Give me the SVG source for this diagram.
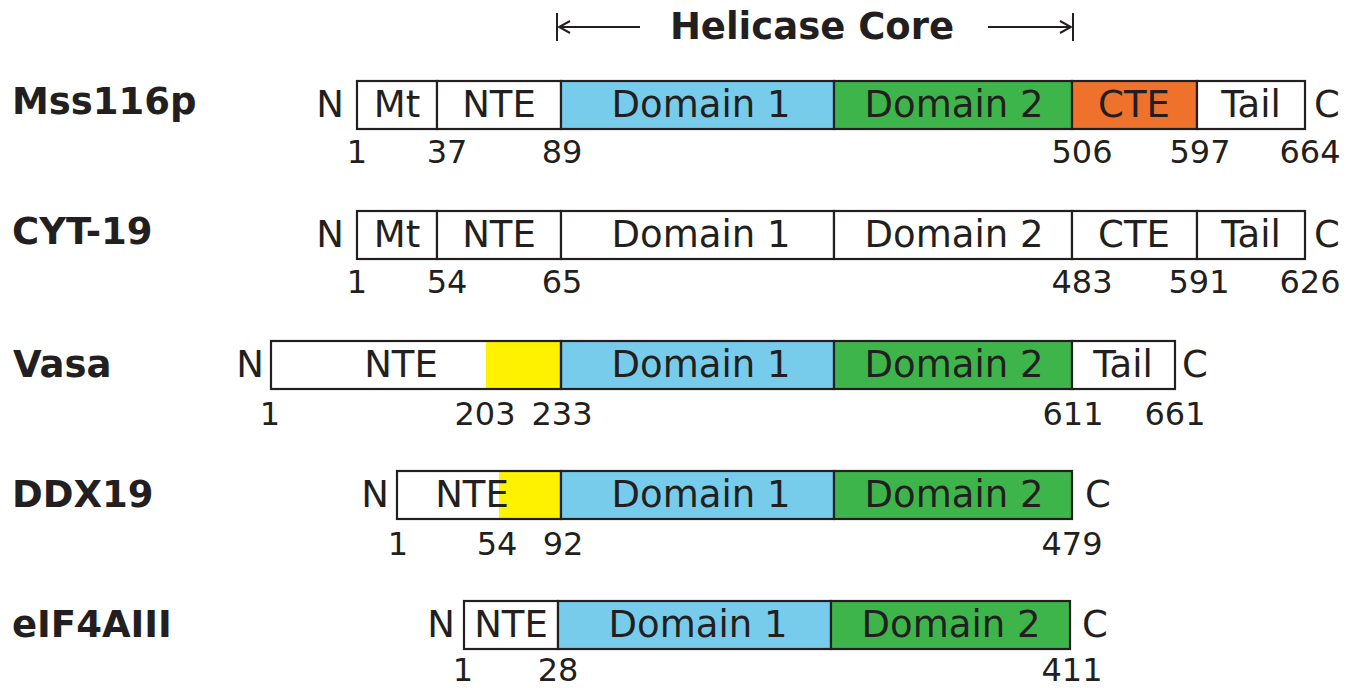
<svg xmlns="http://www.w3.org/2000/svg" width="1358" height="688" viewBox="0 0 1358 688">
  <defs>
    <style>
      text { font-family: "DejaVu Sans", Verdana, sans-serif; fill: #231F20; }
      .name { font-size: 37px; font-weight: bold; }
      .title { font-size: 37px; font-weight: bold; text-anchor: middle; }
      .lab { font-size: 37px; text-anchor: middle; }
      .num { font-size: 32px; text-anchor: middle; }
      .seg { stroke: #231F20; stroke-width: 2.2; }
      .w { fill: #FFFFFF; }
      .b { fill: #78CCEB; }
      .g { fill: #3EB54B; }
      .o { fill: #EE722B; }
      .y { fill: #FFF200; }
      .frame { fill: none; stroke: #231F20; stroke-width: 2.2; }
      .ln { stroke: #231F20; stroke-width: 2; fill: none; }
    </style>
    <marker id="arr" markerWidth="14" markerHeight="14" refX="1" refY="7" orient="auto" markerUnits="userSpaceOnUse">
      <path d="M12,1 L1,7 L12,13" fill="none" stroke="#231F20" stroke-width="2"/>
    </marker>
  </defs>

  <!-- Helicase core span indicator -->
  <g id="helicase-core">
    <line class="ln" x1="557" y1="13" x2="557" y2="41"/>
    <line class="ln" x1="559" y1="27" x2="640" y2="27" marker-start="url(#arr)"/>
    <line class="ln" x1="1073" y1="13" x2="1073" y2="41"/>
    <line class="ln" x1="1071" y1="27" x2="988" y2="27" marker-start="url(#arr)"/>
    <text class="title" x="812" y="39">Helicase Core</text>
  </g>

  <!-- Mss116p -->
  <g id="mss116p">
    <text class="name" x="12" y="114">Mss116p</text>
    <text class="lab" x="330" y="117">N</text>
    <rect class="seg w" x="357" y="81" width="80" height="48"/>
    <rect class="seg w" x="437" y="81" width="124" height="48"/>
    <rect class="seg b" x="561" y="81" width="273" height="48"/>
    <rect class="seg g" x="834" y="81" width="238" height="48"/>
    <rect class="seg o" x="1072" y="81" width="125" height="48"/>
    <rect class="seg w" x="1197" y="81" width="108" height="48"/>
    <text class="lab" x="397" y="117">Mt</text>
    <text class="lab" x="499" y="117">NTE</text>
    <text class="lab" x="701" y="117">Domain 1</text>
    <text class="lab" x="954" y="117">Domain 2</text>
    <text class="lab" x="1134" y="117">CTE</text>
    <text class="lab" x="1251" y="117">Tail</text>
    <text class="lab" x="1327" y="117">C</text>
    <text class="num" x="357" y="163">1</text>
    <text class="num" x="447" y="163">37</text>
    <text class="num" x="562" y="163">89</text>
    <text class="num" x="1082" y="163">506</text>
    <text class="num" x="1200" y="163">597</text>
    <text class="num" x="1310" y="163">664</text>
  </g>

  <!-- CYT-19 -->
  <g id="cyt19">
    <text class="name" x="12" y="244">CYT-19</text>
    <text class="lab" x="330" y="247">N</text>
    <rect class="seg w" x="357" y="211" width="80" height="48"/>
    <rect class="seg w" x="437" y="211" width="124" height="48"/>
    <rect class="seg w" x="561" y="211" width="273" height="48"/>
    <rect class="seg w" x="834" y="211" width="238" height="48"/>
    <rect class="seg w" x="1072" y="211" width="125" height="48"/>
    <rect class="seg w" x="1197" y="211" width="108" height="48"/>
    <text class="lab" x="397" y="247">Mt</text>
    <text class="lab" x="499" y="247">NTE</text>
    <text class="lab" x="701" y="247">Domain 1</text>
    <text class="lab" x="954" y="247">Domain 2</text>
    <text class="lab" x="1134" y="247">CTE</text>
    <text class="lab" x="1251" y="247">Tail</text>
    <text class="lab" x="1327" y="247">C</text>
    <text class="num" x="357" y="293">1</text>
    <text class="num" x="447" y="293">54</text>
    <text class="num" x="562" y="293">65</text>
    <text class="num" x="1082" y="293">483</text>
    <text class="num" x="1199" y="293">591</text>
    <text class="num" x="1310" y="293">626</text>
  </g>

  <!-- Vasa -->
  <g id="vasa">
    <text class="name" x="13" y="377">Vasa</text>
    <text class="lab" x="250" y="377">N</text>
    <rect class="w" x="271" y="341" width="215" height="48"/>
    <rect class="y" x="486" y="341" width="75" height="48"/>
    <rect class="seg b" x="561" y="341" width="273" height="48"/>
    <rect class="seg g" x="834" y="341" width="238" height="48"/>
    <rect class="seg w" x="1072" y="341" width="103" height="48"/>
    <rect class="frame" x="271" y="341" width="290" height="48"/>
    <text class="lab" x="401" y="377">NTE</text>
    <text class="lab" x="701" y="377">Domain 1</text>
    <text class="lab" x="954" y="377">Domain 2</text>
    <text class="lab" x="1123" y="377">Tail</text>
    <text class="lab" x="1195" y="377">C</text>
    <text class="num" x="270" y="425">1</text>
    <text class="num" x="485" y="425">203</text>
    <text class="num" x="562" y="425">233</text>
    <text class="num" x="1073" y="425">611</text>
    <text class="num" x="1175" y="425">661</text>
  </g>

  <!-- DDX19 -->
  <g id="ddx19">
    <text class="name" x="12" y="507">DDX19</text>
    <text class="lab" x="375" y="507">N</text>
    <rect class="w" x="397" y="471" width="102" height="48"/>
    <rect class="y" x="499" y="471" width="62" height="48"/>
    <text class="lab" x="472" y="507">NTE</text>
    <rect class="frame" x="397" y="471" width="164" height="48"/>
    <rect class="seg b" x="561" y="471" width="273" height="48"/>
    <rect class="seg g" x="834" y="471" width="238" height="48"/>
    <text class="lab" x="701" y="507">Domain 1</text>
    <text class="lab" x="954" y="507">Domain 2</text>
    <text class="lab" x="1098" y="507">C</text>
    <text class="num" x="398" y="555">1</text>
    <text class="num" x="497" y="555">54</text>
    <text class="num" x="563" y="555">92</text>
    <text class="num" x="1072" y="555">479</text>
  </g>

  <!-- eIF4AIII -->
  <g id="eif4aiii">
    <text class="name" x="12" y="637">eIF4AIII</text>
    <text class="lab" x="441" y="637">N</text>
    <rect class="seg w" x="464" y="601" width="94" height="48"/>
    <rect class="seg b" x="558" y="601" width="273" height="48"/>
    <rect class="seg g" x="831" y="601" width="239" height="48"/>
    <text class="lab" x="511" y="637">NTE</text>
    <text class="lab" x="698" y="637">Domain 1</text>
    <text class="lab" x="951" y="637">Domain 2</text>
    <text class="lab" x="1095" y="637">C</text>
    <text class="num" x="463" y="681">1</text>
    <text class="num" x="558" y="681">28</text>
    <text class="num" x="1072" y="681">411</text>
  </g>
</svg>
